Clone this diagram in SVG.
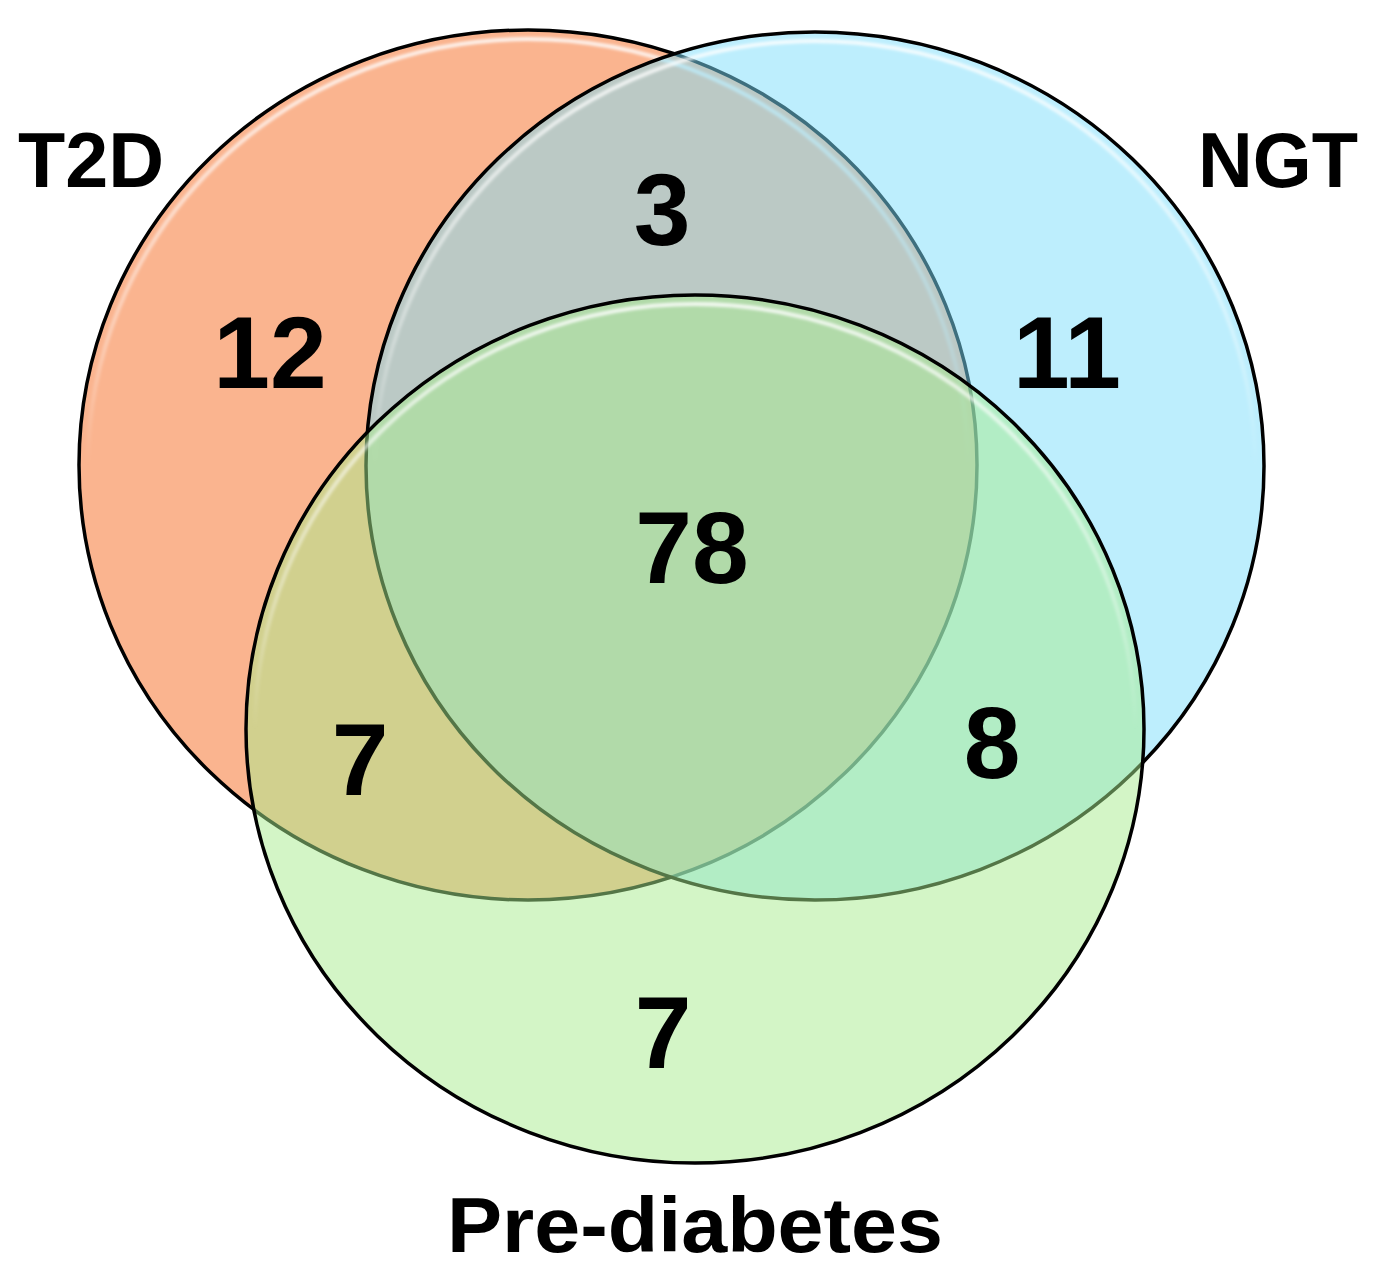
<svg xmlns="http://www.w3.org/2000/svg" width="1387" height="1269" viewBox="0 0 1387 1269">
  <defs>
    <style>
      .set { stroke: #000; stroke-width: 3.5; }
      .gloss { fill: none; stroke: url(#glossGrad); stroke-width: 4; filter: url(#soft); }
      .num { font-family: "Liberation Sans", Arial, sans-serif; font-weight: bold; font-size: 102px; fill: #000; text-anchor: middle; }
      .lbl { font-family: "Liberation Sans", Arial, sans-serif; font-weight: bold; font-size: 77px; fill: #000; text-anchor: middle; }
    </style>
    <linearGradient id="glossGrad" x1="0" y1="0" x2="0" y2="1">
      <stop offset="0" stop-color="#fff" stop-opacity="0.85"/>
      <stop offset="0.35" stop-color="#fff" stop-opacity="0.35"/>
      <stop offset="0.5" stop-color="#fff" stop-opacity="0"/>
    </linearGradient>
    <filter id="soft" x="-5%" y="-5%" width="110%" height="110%">
      <feGaussianBlur stdDeviation="1.5"/>
    </filter>
  </defs>
  <rect width="1387" height="1269" fill="#fff"/>

  <g id="t2d">
    <ellipse class="set" cx="528" cy="465" rx="449" ry="435" fill="#FAB48F"/>
    <ellipse class="gloss" cx="528" cy="465" rx="440" ry="426"/>
  </g>
  <g id="ngt">
    <ellipse class="set" cx="815" cy="466" rx="449" ry="434" fill="#7BDDFB" fill-opacity="0.5"/>
    <ellipse class="gloss" cx="815" cy="466" rx="440" ry="425"/>
  </g>
  <g id="prediabetes">
    <ellipse class="set" cx="695" cy="729" rx="449" ry="434" fill="#A7EB8D" fill-opacity="0.5"/>
    <ellipse class="gloss" cx="695" cy="729" rx="440" ry="425"/>
  </g>

  <g id="counts">
    <text class="num" x="270" y="388">12</text>
    <text class="num" x="662" y="245">3</text>
    <text class="num" x="1067" y="388">11</text>
    <text class="num" x="692" y="583">78</text>
    <text class="num" x="360" y="795">7</text>
    <text class="num" x="992" y="778">8</text>
    <text class="num" x="663" y="1068">7</text>
  </g>

  <g id="labels">
    <text class="lbl" x="91" y="187" textLength="146" lengthAdjust="spacingAndGlyphs">T2D</text>
    <text class="lbl" x="1278" y="187" textLength="160" lengthAdjust="spacingAndGlyphs">NGT</text>
    <text class="lbl" x="695" y="1252" textLength="496" lengthAdjust="spacingAndGlyphs">Pre-diabetes</text>
  </g>
</svg>
